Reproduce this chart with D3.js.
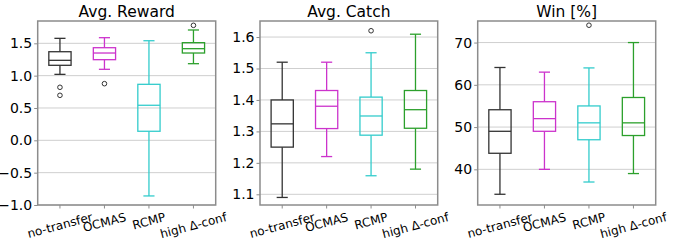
<!DOCTYPE html>
<html><head><meta charset="utf-8">
<script src="https://cdn.jsdelivr.net/npm/d3@7"></script>
<style>body{margin:0;background:#fff}svg{display:block}text{font-family:"DejaVu Sans",sans-serif}</style>
</head><body>
<svg id="c" width="673" height="244"></svg>
<script>
const categories = ["no-transfer", "OCMAS", "RCMP", "high \u0394-conf"];
const colors = ["#333333", "#cc33cc", "#33cccc", "#2ca02c"];

// [low whisker, Q1, median, Q3, high whisker]
const rewardStats = [[1.02, 1.16, 1.237, 1.37, 1.577], [1.098, 1.247, 1.35, 1.432, 1.587], [-0.86, 0.14, 0.542, 0.866, 1.54], [1.185, 1.35, 1.417, 1.51, 1.706]];
const rewardOutliers = [[0.82, 0.696], [0.876], [], [1.778]];
const rewardTicks = [-1.0, -0.5, 0.0, 0.5, 1.0, 1.5];

const catchStats = [[1.09, 1.25, 1.324, 1.40, 1.52], [1.22, 1.309, 1.38, 1.43, 1.52], [1.159, 1.288, 1.349, 1.409, 1.55], [1.18, 1.31, 1.369, 1.43, 1.609]];
const catchOutliers = [[], [], [1.62], []];
const catchTicks = [1.1, 1.2, 1.3, 1.4, 1.5, 1.6];

const winStats = [[34.1, 43.8, 49.0, 54.1, 64.1], [40, 49, 52, 56, 63], [37, 47, 51, 55, 64], [39, 48, 51, 57, 70]];
const winOutliers = [[], [], [74.1], []];
const winTicks = [40, 50, 60, 70];

const panels = [
  {title: "Avg. Reward", stats: rewardStats, outl: rewardOutliers, ticks: rewardTicks, dom: [-1.0, 1.845], fmt: d3.format(".1f"), x0: 37.7, x1: 215.7},
  {title: "Avg. Catch", stats: catchStats, outl: catchOutliers, ticks: catchTicks, dom: [1.066, 1.651], fmt: d3.format(".1f"), x0: 260, x1: 437.7},
  {title: "Win [%]", stats: winStats, outl: winOutliers, ticks: winTicks, dom: [31.56, 75.1], fmt: d3.format("d"), x0: 477.7, x1: 655.7}
];
const yTop = 21, yBot = 205;
const svg = d3.select("#c");

panels.forEach(p => {
  const g = svg.append("g");
  const y = d3.scaleLinear().domain(p.dom).range([yBot, yTop]);
  const x = d3.scaleBand().domain(categories).range([p.x0, p.x1]).paddingInner(0).paddingOuter(0);
  const bw = x.bandwidth() * 0.5;
  // grid
  g.selectAll(".grid").data(p.ticks).join("line")
    .attr("x1", p.x0).attr("x2", p.x1)
    .attr("y1", d => y(d)).attr("y2", d => y(d))
    .attr("stroke", "#cfcfcf").attr("stroke-width", 1);
  // boxes
  p.stats.forEach((s, i) => {
    const cx = x(categories[i]) + x.bandwidth() / 2;
    const c = colors[i];
    const bg = g.append("g").attr("stroke", c).attr("stroke-width", 1.3).attr("fill", "none");
    bg.append("line").attr("x1", cx).attr("x2", cx).attr("y1", y(s[0])).attr("y2", y(s[1]));
    bg.append("line").attr("x1", cx).attr("x2", cx).attr("y1", y(s[3])).attr("y2", y(s[4]));
    bg.append("line").attr("x1", cx - bw / 4).attr("x2", cx + bw / 4).attr("y1", y(s[0])).attr("y2", y(s[0]));
    bg.append("line").attr("x1", cx - bw / 4).attr("x2", cx + bw / 4).attr("y1", y(s[4])).attr("y2", y(s[4]));
    bg.append("rect").attr("x", cx - bw / 2).attr("width", bw).attr("y", y(s[3])).attr("height", y(s[1]) - y(s[3]));
    bg.append("line").attr("x1", cx - bw / 2).attr("x2", cx + bw / 2).attr("y1", y(s[2])).attr("y2", y(s[2]));
    g.selectAll(null).data(p.outl[i]).join("circle")
      .attr("cx", cx).attr("cy", d => y(d)).attr("r", 2.3)
      .attr("fill", "none").attr("stroke", "#333").attr("stroke-width", 1);
  });
  // frame
  g.append("rect").attr("x", p.x0).attr("y", yTop).attr("width", p.x1 - p.x0).attr("height", yBot - yTop)
    .attr("fill", "none").attr("stroke", "#8c8c8c").attr("stroke-width", 1.5);
  // y axis
  const ya = g.append("g").attr("transform", `translate(${p.x0},0)`)
    .call(d3.axisLeft(y).tickValues(p.ticks).tickFormat(p.fmt).tickSize(3.5).tickPadding(2));
  ya.select(".domain").remove();
  ya.selectAll("line").attr("stroke", "#8c8c8c");
  ya.selectAll("text").attr("font-size", 14).attr("fill", "#000").attr("font-family", "DejaVu Sans");
  // x axis ticks
  const xa = g.append("g").attr("transform", `translate(0,${yBot})`)
    .call(d3.axisBottom(x).tickSize(3.5).tickFormat(""));
  xa.select(".domain").remove();
  xa.selectAll("line").attr("stroke", "#8c8c8c");
  // x labels rotated
  categories.forEach(cat => {
    const cx = x(cat) + x.bandwidth() / 2;
    const t = g.append("text").text(cat).attr("font-size", 12).attr("text-anchor", "middle")
      .attr("dominant-baseline", "central");
    const w = t.node().getComputedTextLength();
    const a = 15 * Math.PI / 180;
    const h = w * Math.sin(a) + 12 * Math.cos(a);
    t.attr("transform", `translate(${cx},${yBot + 6 + h / 2}) rotate(-15)`);
  });
  // title
  g.append("text").text(p.title).attr("x", (p.x0 + p.x1) / 2).attr("y", 17)
    .attr("text-anchor", "middle").attr("font-size", 15.5).attr("fill", "#000");
});
</script>
</body></html>
